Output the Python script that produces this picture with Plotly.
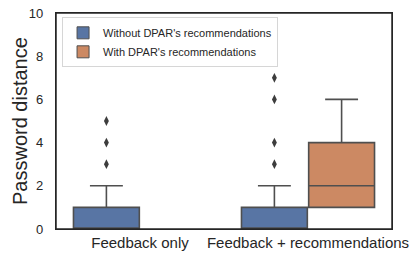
import plotly.graph_objects as go

categories = ["Feedback only", "Feedback + recommendations"]
groups = ["Without DPAR's recommendations", "With DPAR's recommendations"]

# box statistics per group, per category (None = no data)
without_q1 = [0, 0]
without_median = [0, 0]
without_q3 = [1, 1]
without_low = [0, 0]
without_high = [2, 2]
without_outliers = [[3, 4, 5], [3, 4, 6, 7]]

with_q1 = [None, 1]
with_median = [None, 2]
with_q3 = [None, 4]
with_low = [None, 1]
with_high = [None, 6]

colors = ["#5875A4", "#CC8963"]
line_gray = "#4f4f4f"
offsets = [-0.2, 0.2]
box_w = 0.392

fig = go.Figure()

stats = [
    (without_q1, without_median, without_q3, without_low, without_high),
    (with_q1, with_median, with_q3, with_low, with_high),
]
for g, (q1, med, q3, lo, hi) in enumerate(stats):
    xs, a, b, c, d, e = [], [], [], [], [], []
    for i in range(len(categories)):
        if q1[i] is None:
            continue
        xs.append(i + offsets[g])
        a.append(q1[i]); b.append(med[i]); c.append(q3[i]); d.append(lo[i]); e.append(hi[i])
    fig.add_trace(go.Box(
        x=xs, q1=a, median=b, q3=c, lowerfence=d, upperfence=e,
        width=box_w, whiskerwidth=0.5,
        fillcolor=colors[g], line=dict(color=line_gray, width=1.6),
        boxpoints=False, showlegend=False, hoverinfo="skip",
    ))
    # legend patch
    fig.add_trace(go.Bar(
        x=[None], y=[None], name=groups[g],
        marker=dict(color=colors[g], line=dict(color=line_gray, width=1)),
        showlegend=True,
    ))

ox, oy = [], []
for i, pts in enumerate(without_outliers):
    for p in pts:
        ox.append(i + offsets[0])
        oy.append(p)
fig.add_trace(go.Scatter(
    x=ox, y=oy, mode="markers",
    marker=dict(symbol="diamond-tall", size=7, color="#3d3d3d"),
    showlegend=False, hoverinfo="skip",
))

fig.update_layout(
    width=415, height=260,
    margin=dict(l=56, r=23, t=13, b=31),
    plot_bgcolor="white", paper_bgcolor="white",
    font=dict(family="Liberation Sans, Arial, sans-serif", color="#262626", size=15),
    legend=dict(
        x=0.018, y=0.98, xanchor="left", yanchor="top",
        bgcolor="white", bordercolor="#d6d6d6", borderwidth=1,
        font=dict(size=11), itemwidth=30, tracegroupgap=0,
    ),
    barmode="overlay",
    shapes=[dict(type="rect", xref="paper", yref="paper", x0=0, x1=1, y0=0, y1=1,
                 line=dict(color="#262626", width=1.5), layer="above")],
    annotations=[dict(text="Password distance", textangle=-90, xref="paper", yref="paper",
                      x=0, y=0.5, xanchor="center", yanchor="middle", xshift=-36,
                      showarrow=False, font=dict(size=20, color="#262626"))],
)
fig.update_xaxes(
    range=[-0.5, 1.5], tickmode="array",
    tickvals=list(range(len(categories))), ticktext=categories,
    showgrid=False, zeroline=False, showline=True, mirror=True,
    linecolor="#262626", linewidth=1.25, ticks="",
    tickfont=dict(size=15), automargin=False,
)
fig.update_yaxes(
    range=[0, 10], tickmode="array", tickvals=[0, 2, 4, 6, 8, 10],
    showgrid=False, zeroline=False, showline=True, mirror=True,
    linecolor="#262626", linewidth=1.25, ticks="",
    tickfont=dict(size=13), ticklabelstandoff=9, automargin=False,
)

fig.write_html(
    "out.html",
    config={"displayModeBar": False},
    post_script="document.body.style.margin='0';document.body.style.overflow='hidden';",
)
